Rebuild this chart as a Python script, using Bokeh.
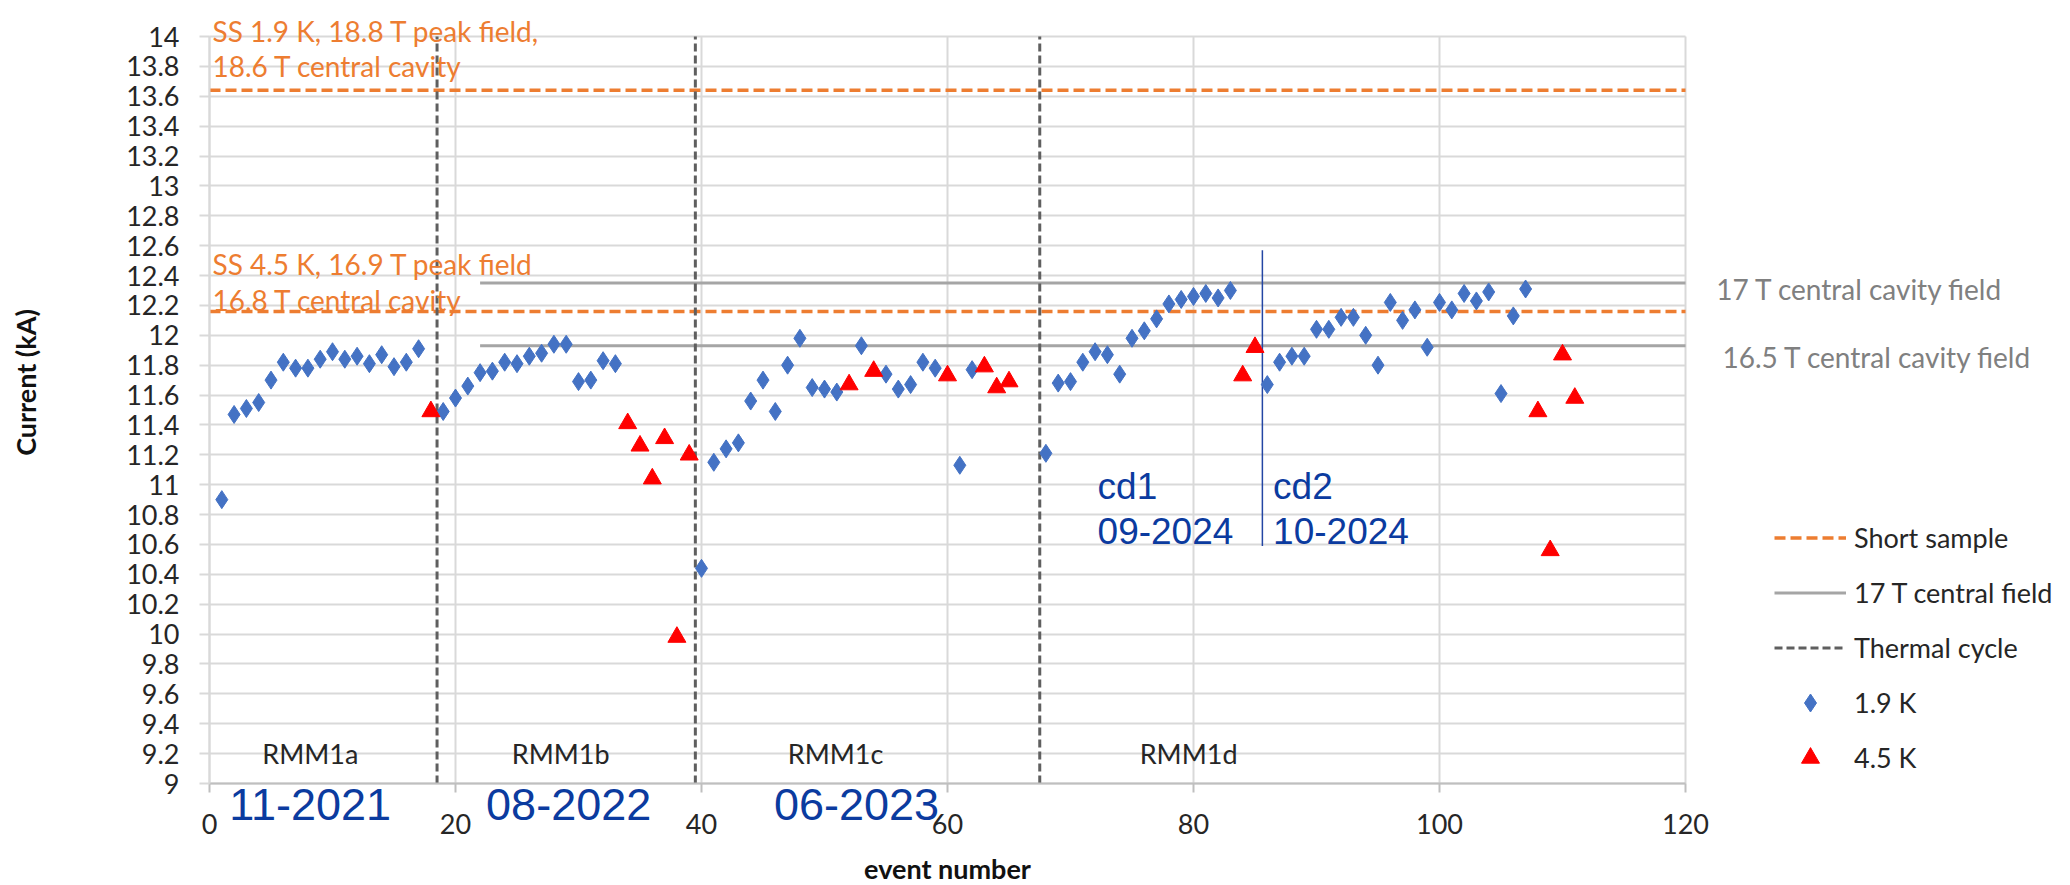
from math import pi

from bokeh.embed import file_html
from bokeh.models import (FixedTicker, Label, Legend, LegendItem,
                          NumeralTickFormatter, Range1d)
from bokeh.plotting import figure
from bokeh.resources import INLINE

# ---- quench history -------------------------------------------------------
# 1.9 K quenches: event number and quench current (kA)
events_19k = [1, 2, 3, 4, 5, 6, 7, 8, 9, 10, 11, 12, 13, 14, 15, 16, 17,
              19, 20, 21, 22, 23, 24, 25, 26, 27, 28, 29, 30, 31, 32, 33,
              40, 41, 42, 43, 44, 45, 46, 47, 48, 49, 50, 51,
              53, 55, 56, 57, 58, 59, 61, 62,
              68, 69, 70, 71, 72, 73, 74, 75, 76, 77, 78, 79, 80, 81, 82, 83,
              86, 87, 88, 89, 90, 91, 92, 93, 94, 95, 96, 97, 98, 99, 100,
              101, 102, 103, 104, 105, 106, 107]
current_19k = [10.90, 11.47, 11.51, 11.55, 11.70, 11.82, 11.78, 11.78, 11.84,
               11.89, 11.84, 11.86, 11.81, 11.87, 11.79, 11.82, 11.91,
               11.49, 11.58, 11.66, 11.75, 11.76, 11.82, 11.81, 11.86, 11.88,
               11.94, 11.94, 11.69, 11.70, 11.83, 11.81,
               10.44, 11.15, 11.24, 11.28, 11.56, 11.70, 11.49, 11.80, 11.98,
               11.65, 11.64, 11.62,
               11.93, 11.74, 11.64, 11.67, 11.82, 11.78, 11.13, 11.77,
               11.21, 11.68, 11.69, 11.82, 11.89, 11.87, 11.74, 11.98, 12.03,
               12.11, 12.21, 12.24, 12.26, 12.28, 12.25, 12.30,
               11.67, 11.82, 11.86, 11.86, 12.04, 12.04, 12.12, 12.12, 12.00,
               11.80, 12.22, 12.10, 12.17, 11.92, 12.22, 12.17, 12.28, 12.23,
               12.29, 11.61, 12.13, 12.31]

# 4.5 K quenches
events_45k = [18, 34, 35, 36, 37, 38, 39, 52, 54, 60, 63, 64, 65, 84, 85,
              108, 109, 110, 111]
current_45k = [11.49, 11.41, 11.26, 11.04, 11.31, 9.98, 11.20, 11.67, 11.76,
               11.73, 11.79, 11.65, 11.69, 11.73, 11.92, 11.49, 10.56, 11.87,
               11.58]

# reference levels (kA)
short_sample_levels = [13.64, 12.16]        # 1.9 K and 4.5 K short sample
central_field_levels = [12.35, 11.93]       # 17 T and 16.5 T central cavity field
central_field_from = 22                     # event where the field lines begin
thermal_cycles = [18.5, 39.5, 67.5]         # thermal cycles between test campaigns
cooldown_split = 85.6                       # cd1 / cd2 boundary
cooldown_split_span = [10.59, 12.57]

x_start, x_end = 0, 120
y_start, y_end = 9, 14
x_ticks = [0, 20, 40, 60, 80, 100, 120]
y_ticks = [round(9 + 0.2 * i, 1) for i in range(26)]

campaigns = ["RMM1a", "RMM1b", "RMM1c", "RMM1d"]
campaign_dates = ["11-2021", "08-2022", "06-2023"]

# ---- layout -----------------------------------------------------------------
W, H = 2070, 885
PLOT_LEFT, PLOT_RIGHT = 209, 1685       # pixel columns of x = 0 and x = 120
PLOT_TOP, PLOT_BOTTOM = 36, 783         # pixel rows of y = 14 and y = 9
px_x = (PLOT_RIGHT - PLOT_LEFT) / (x_end - x_start)
px_y = (PLOT_BOTTOM - PLOT_TOP) / (y_end - y_start)

# the frame covers the whole canvas so that notes and legend outside the
# plotting area are not clipped; axes are pinned to x = 0 and y = 9
xr = Range1d(x_start - PLOT_LEFT / px_x, x_end + (W - PLOT_RIGHT) / px_x)
yr = Range1d(y_start - (H - PLOT_BOTTOM) / px_y, y_end + PLOT_TOP / px_y)

FONT = "Lato"
DATE_FONT = "Liberation Sans"
ORANGE = "#ED7D31"
GREY = "#A5A5A5"
DARK = "#262626"
NAVY = "#0B3B9F"
GRID = "#D9D9D9"
BLUE = "#4472C4"
RED = "#FF0000"

p = figure(width=W, height=H, x_range=xr, y_range=yr,
           output_backend="svg", toolbar_location=None, min_border=0,
           min_border_left=0, min_border_right=0,
           min_border_top=0, min_border_bottom=0)
p.background_fill_color = "white"
p.border_fill_color = "white"
p.outline_line_color = None

# grid, limited to the plotting area
p.xgrid.ticker = FixedTicker(ticks=x_ticks)
p.ygrid.ticker = FixedTicker(ticks=y_ticks)
p.xgrid.bounds = (x_start, x_end)
p.xgrid.cross_bounds = (y_start, y_end)
p.ygrid.bounds = (y_start, y_end)
p.ygrid.cross_bounds = (x_start, x_end)
for g in (p.xgrid, p.ygrid):
    g.grid_line_color = GRID
    g.grid_line_width = 2

# axes
p.xaxis.fixed_location = y_start
p.yaxis.fixed_location = x_start
p.xaxis.bounds = (x_start, x_end)
p.yaxis.bounds = (y_start, y_end)
p.xaxis.ticker = FixedTicker(ticks=x_ticks)
p.yaxis.ticker = FixedTicker(ticks=y_ticks)
p.yaxis.formatter = NumeralTickFormatter(format="0.[0]")
p.xaxis.formatter = NumeralTickFormatter(format="0")
for ax in (p.xaxis, p.yaxis):
    ax.major_label_text_font = FONT
    ax.major_label_text_font_size = "27px"
    ax.major_label_text_color = DARK
    ax.major_tick_in = 0
    ax.minor_tick_line_color = None
    ax.axis_line_width = 2
    ax.major_tick_line_width = 2
p.yaxis.axis_line_color = GRID
p.yaxis.major_tick_line_color = GRID
p.yaxis.major_tick_out = 10
p.yaxis.major_label_standoff = 20
p.xaxis.axis_line_color = "#BFBFBF"
p.xaxis.major_tick_line_color = "#BFBFBF"
p.xaxis.major_tick_out = 9
p.xaxis.major_label_standoff = 21
p.xaxis.axis_label = "event number"
p.xaxis.axis_label_text_font = FONT
p.xaxis.axis_label_text_font_size = "27px"
p.xaxis.axis_label_text_font_style = "bold"
p.xaxis.axis_label_text_color = "#111111"
p.xaxis.axis_label_standoff = 15

# reference lines
ss = p.segment(x0=[x_start] * 2, x1=[x_end] * 2,
               y0=short_sample_levels, y1=short_sample_levels,
               line_color=ORANGE, line_width=3.5, line_dash="11 5")
cf = p.segment(x0=[central_field_from] * 2, x1=[x_end] * 2,
               y0=central_field_levels, y1=central_field_levels,
               line_color=GREY, line_width=3)
tc = p.segment(x0=thermal_cycles, x1=thermal_cycles,
               y0=[y_start] * len(thermal_cycles), y1=[y_end] * len(thermal_cycles),
               line_color="#5F5F5F", line_width=3, line_dash="8 4")
p.segment(x0=[cooldown_split], x1=[cooldown_split],
          y0=[cooldown_split_span[0]], y1=[cooldown_split_span[1]],
          line_color="#2446A4", line_width=1.5)

# quench points
k19 = p.scatter(events_19k, current_19k, marker="diamond", size=18,
                fill_color=BLUE, line_color=BLUE)
k45 = p.scatter(events_45k, current_45k, marker="triangle", size=18,
                fill_color=RED, line_color=RED)


def note(x, y, text, color, size, font=FONT, align="left", **kw):
    p.add_layout(Label(x=x, y=y, text=text, text_color=color, text_font=font,
                       text_font_size=size, text_align=align,
                       text_baseline="alphabetic", **kw))


# short sample annotations
note(0.24, 14.04, "SS 1.9 K, 18.8 T peak field,", ORANGE, "28px")
note(0.24, 13.80, "18.6 T central cavity", ORANGE, "28px")
note(0.24, 12.48, "SS 4.5 K, 16.9 T peak field", ORANGE, "28px")
note(0.24, 12.233, "16.8 T central cavity", ORANGE, "28px")

# field line annotations on the right
note(122.5, 12.313, "17 T central cavity field", "#808080", "28px")
note(123.0, 11.858, "16.5 T central cavity field", "#808080", "28px")

# campaign names and dates
for xc, name in zip([8.2, 28.55, 50.9, 79.6], campaigns):
    note(xc, 9.20, name, DARK, "27px", align="center")
for xc, date in zip([8.18, 29.2, 52.6], campaign_dates):
    note(xc, 8.86, date, NAVY, "45px", font=DATE_FONT, align="center")

# cooldown annotations
note(72.2, 10.99, "cd1", NAVY, "37px", font=DATE_FONT)
note(72.2, 10.689, "09-2024", NAVY, "37px", font=DATE_FONT)
note(86.47, 10.99, "cd2", NAVY, "37px", font=DATE_FONT)
note(86.47, 10.689, "10-2024", NAVY, "37px", font=DATE_FONT)

# y axis title
p.add_layout(Label(x=x_start - (PLOT_LEFT - 25) / px_x, y=11.684,
                   text="Current (kA)", angle=pi / 2,
                   text_align="center", text_baseline="middle",
                   text_font=FONT, text_font_size="27px",
                   text_font_style="bold", text_color="#111111"))

legend = Legend(items=[LegendItem(label="Short sample", renderers=[ss]),
                       LegendItem(label="17 T central field", renderers=[cf]),
                       LegendItem(label="Thermal cycle", renderers=[tc]),
                       LegendItem(label="1.9 K", renderers=[k19]),
                       LegendItem(label="4.5 K", renderers=[k45])],
                location=(1774, H - 780), orientation="vertical",
                glyph_width=72, glyph_height=45, label_height=45, spacing=10,
                padding=0, margin=0, label_standoff=8,
                border_line_color=None, background_fill_alpha=0,
                label_text_font=FONT, label_text_font_size="27px",
                label_text_color=DARK)
p.add_layout(legend)

open("out.html", "w").write(file_html(p, INLINE))
